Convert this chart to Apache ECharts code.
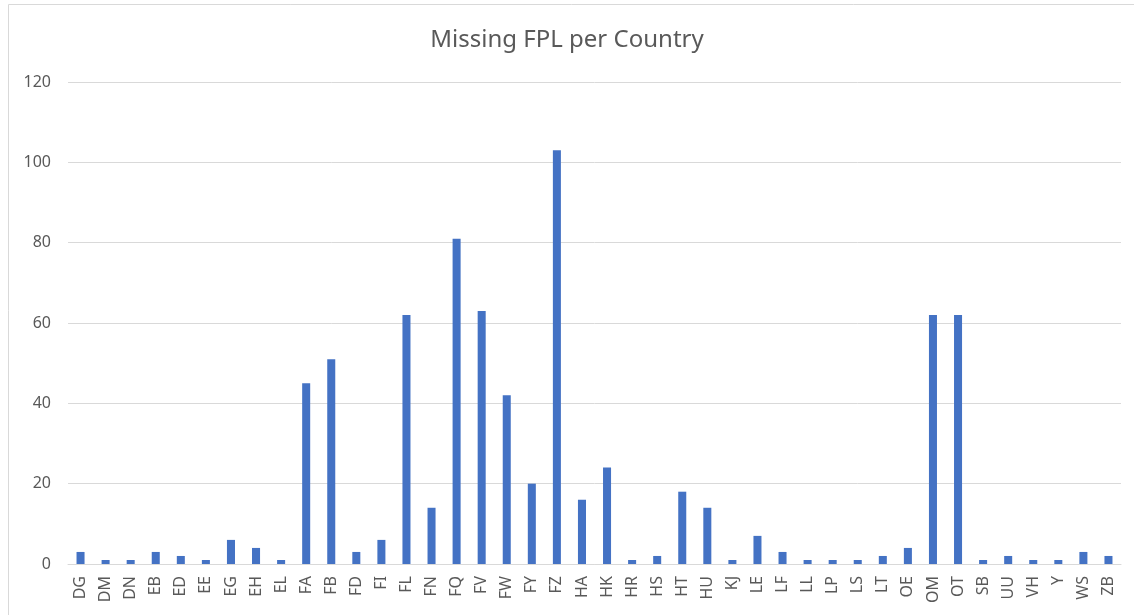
<!DOCTYPE html>
<html>
<head>
<meta charset="utf-8">
<title>Missing FPL per Country</title>
<script src="https://cdn.jsdelivr.net/npm/echarts@6/dist/echarts.min.js"></script>
<style>
  html, body { margin: 0; padding: 0; background: #fff; }
  #chart { width: 1134px; height: 615px; }
</style>
</head>
<body>
<div id="chart"></div>
<script>
// country codes on the x axis
const countries = [
  "DG", "DM", "DN", "EB", "ED", "EE", "EG", "EH", "EL", "FA", "FB", "FD", "FI", "FL",
  "FN", "FQ", "FV", "FW", "FY", "FZ", "HA", "HK", "HR", "HS", "HT", "HU", "KJ", "LE",
  "LF", "LL", "LP", "LS", "LT", "OE", "OM", "OT", "SB", "UU", "VH", "Y", "WS", "ZB",
];

// missing FPL count per country
const missingFpl = [
  3, 1, 1, 3, 2, 1, 6, 4, 1, 45, 51, 3, 6, 62,
  14, 81, 63, 42, 20, 103, 16, 24, 1, 2, 18, 14, 1, 7,
  3, 1, 1, 1, 2, 4, 62, 62, 1, 2, 1, 1, 3, 2,
];

// y axis ticks
const yTicks = { min: 0, max: 120, step: 20 };

const chart = echarts.init(document.getElementById("chart"));

const options = {
  animation: false,
  textStyle: { fontFamily: "Noto Sans" },
  title: {
    text: "Missing FPL per Country",
    left: "center",
    top: 23,
    textStyle: { fontSize: 24, fontWeight: "normal", color: "#595959" },
  },
  graphic: [
    {
      type: "rect",
      shape: { x: 8.5, y: 4.5, width: 1200, height: 700 },
      style: { fill: "none", stroke: "#d9d9d9", lineWidth: 1 },
      silent: true,
    },
  ],
  grid: { left: 68, right: 13, top: 82, bottom: 51 },
  xAxis: {
    type: "category",
    data: countries,
    axisLine: { lineStyle: { color: "#d9d9d9", width: 1 } },
    axisTick: { show: false },
    axisLabel: {
      rotate: 90,
      interval: 0,
      margin: 12,
      fontSize: 16,
      color: "#595959",
    },
  },
  yAxis: {
    type: "value",
    min: yTicks.min,
    max: yTicks.max,
    interval: yTicks.step,
    axisLine: { show: false },
    axisTick: { show: false },
    splitLine: { lineStyle: { color: "#d9d9d9" } },
    axisLabel: { fontSize: 16, color: "#595959", margin: 17 },
  },
  series: [
    {
      type: "bar",
      data: missingFpl,
      barWidth: "32%",
      itemStyle: { color: "#4472c4" },
    },
  ],
};

chart.setOption(options);
</script>
</body>
</html>
